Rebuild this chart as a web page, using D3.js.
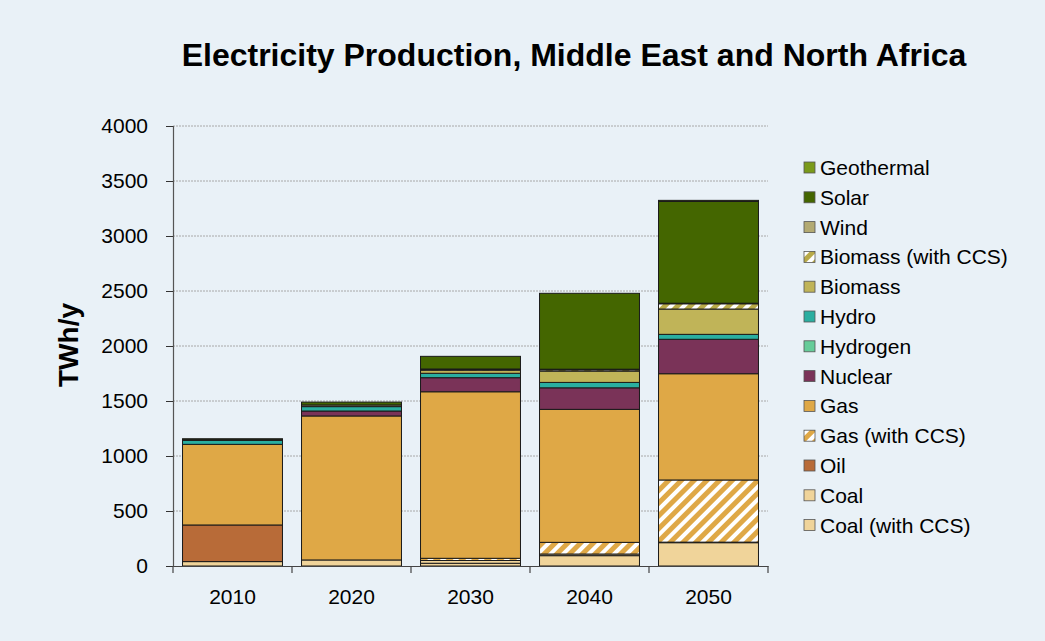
<!DOCTYPE html>
<html><head><meta charset="utf-8">
<script src="https://cdn.jsdelivr.net/npm/d3@7"></script>
<style>html,body{margin:0;padding:0;background:#e9f1f7;}svg{display:block;font-family:"Liberation Sans",Arial,sans-serif;}</style>
</head><body>
<svg id="c" width="1045" height="641"></svg>
<script>
const years = ["2010","2020","2030","2040","2050"];
const seriesNames = ["Coal (with CCS)","Coal","Oil","Gas (with CCS)","Gas","Nuclear","Hydrogen","Hydro","Biomass","Biomass (with CCS)","Wind","Solar","Geothermal"];
const coalCCS   = [0, 0, 25, 94, 212];
const coal      = [40, 55, 25, 15, 5];
const oil       = [333, 0, 0, 0, 0];
const gasCCS    = [0, 0, 20, 106, 565];
const gas       = [733, 1309, 1514, 1209, 966];
const nuclear   = [0, 45, 128, 196, 313];
const hydrogen  = [0, 0, 0, 0, 0];
const hydro     = [36, 40, 40, 49, 45];
const biomass   = [0, 0, 28, 103, 230];
const biomassCCS= [0, 0, 6, 12, 48];
const wind      = [5, 15, 5, 5, 5];
const solar     = [10, 26, 115, 690, 925];
const geothermal= [0, 0, 0, 0, 10];
const yTicks = [0,500,1000,1500,2000,2500,3000,3500,4000];

const seriesValues = [coalCCS,coal,oil,gasCCS,gas,nuclear,hydrogen,hydro,biomass,biomassCCS,wind,solar,geothermal];
const colors = {"Coal (with CCS)":"#f0d49a","Coal":"#f0d49a","Oil":"#b86b38","Gas (with CCS)":"url(#hatchGas)","Gas":"#dfa846","Nuclear":"#7a3358","Hydrogen":"#66cc99","Hydro":"#2aaea0","Biomass":"#c0b458","Biomass (with CCS)":"url(#hatchBio)","Wind":"#b3aa72","Solar":"#446600","Geothermal":"#7a9a1a"};

const table = years.map((y,i)=>{const o={year:y};seriesNames.forEach((s,k)=>o[s]=seriesValues[k][i]);return o;});
const stack = d3.stack().keys(seriesNames)(table);

const svg = d3.select("#c");
const defs = svg.append("defs");
function hatch(id,col){
  const p = defs.append("pattern").attr("id",id).attr("patternUnits","userSpaceOnUse")
    .attr("width",9).attr("height",9).attr("patternTransform","rotate(45)");
  p.append("rect").attr("width",9).attr("height",9).attr("fill","#fff");
  p.append("rect").attr("width",5).attr("height",9).attr("fill",col);
}
hatch("hatchGas","#dfa846");
hatch("hatchBio","#b8aa48");

const x = d3.scaleBand().domain(years).range([173,768]).paddingInner(0.16).paddingOuter(0.08);
const y = d3.scaleLinear().domain([0,4000]).range([566,126]);

// grid
svg.append("g").selectAll("line").data(yTicks.filter(t=>t>0)).join("line")
  .attr("x1",173).attr("x2",768).attr("y1",d=>y(d)).attr("y2",d=>y(d))
  .attr("stroke","#a8a8a8").attr("stroke-dasharray","2,1").attr("stroke-width",1);

// bars
svg.append("g").selectAll("g").data(stack).join("g")
  .attr("fill",d=>colors[d.key])
  .selectAll("rect").data(d=>d.filter(p=>p[1]-p[0]>0)).join("rect")
  .attr("x",d=>x(d.data.year)).attr("width",x.bandwidth())
  .attr("y",d=>y(d[1])).attr("height",d=>y(d[0])-y(d[1]))
  .attr("stroke","#1a1a1a").attr("stroke-width",1);

// y axis
const ya = svg.append("g").attr("transform","translate(173,0)")
  .call(d3.axisLeft(y).tickValues(yTicks).tickSize(7).tickPadding(18).tickFormat(d3.format("d")));
ya.select(".domain").attr("stroke","#555").attr("stroke-width",1.2);
ya.selectAll(".tick line").attr("stroke","#333");
ya.selectAll("text").attr("font-size",21).attr("fill","#000").attr("font-family","Liberation Sans, Arial, sans-serif");

// x axis
const xa = svg.append("g").attr("transform","translate(0,566)")
  .call(d3.axisBottom(x).tickSize(0).tickPadding(23));
xa.select(".domain").attr("stroke","#444").attr("stroke-width",1.2);
xa.selectAll("text").attr("font-size",21).attr("fill","#000").attr("font-family","Liberation Sans, Arial, sans-serif");
const bounds = d3.range(6).map(i=>173+i*(595/5));
xa.append("g").selectAll("line").data(bounds).join("line")
  .attr("x1",d=>d).attr("x2",d=>d).attr("y1",0).attr("y2",7).attr("stroke","#444").attr("stroke-width",1.2);

// title
svg.append("text").attr("x",574).attr("y",66).attr("text-anchor","middle")
  .attr("font-size",32).attr("font-weight","bold").text("Electricity Production, Middle East and North Africa");
// y label
svg.append("text").attr("transform","translate(78,345) rotate(-90)").attr("text-anchor","middle")
  .attr("font-size",28).attr("font-weight","bold").text("TWh/y");

// legend
const legendItems = seriesNames.slice().reverse();
const lg = svg.append("g").selectAll("g").data(legendItems).join("g")
  .attr("transform",(d,i)=>`translate(804,${168+i*29.8})`);
lg.append("rect").attr("x",0).attr("y",-6).attr("width",11).attr("height",11)
  .attr("fill",d=>colors[d]).attr("stroke","#555").attr("stroke-width",0.8);
lg.append("text").attr("x",16).attr("y",7).attr("font-size",21).text(d=>d);
</script>
</body></html>
